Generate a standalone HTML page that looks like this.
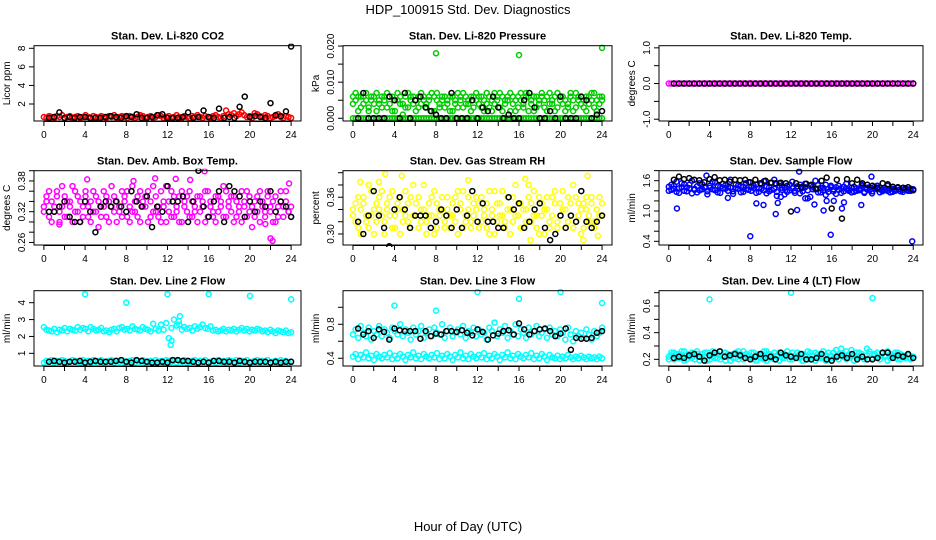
<!DOCTYPE html>
<html><head><meta charset="utf-8"><style>
body{margin:0;background:#fff;}
svg{display:block;font-family:"Liberation Sans",Arial,sans-serif;}
</style></head><body>
<svg id="chart" width="936" height="540" xmlns="http://www.w3.org/2000/svg">
<rect width="936" height="540" fill="#fff"/>
<text x="468" y="14" font-size="13" text-anchor="middle">HDP_100915  Std. Dev. Diagnostics</text>
<text x="468" y="531" font-size="13" text-anchor="middle">Hour of Day (UTC)</text>
</svg>
<script>
// ---------- DATA ----------
const co2Red=[0.6,0.5,0.7,0.6,0.5,0.7,0.6,0.8,0.5,0.6,0.7,0.5,0.6,0.7,0.5,0.6,0.8,0.6,0.5,0.7,0.6,0.5,0.7,0.6,0.5,0.7,0.6,0.8,0.5,0.6,0.7,0.6,0.5,0.7,0.6,0.5,0.6,0.8,0.7,0.5,0.6,0.7,0.5,0.6,0.8,0.7,0.5,0.6,0.7,0.5,0.6,0.8,0.6,0.5,0.7,0.6,0.5,0.7,0.6,0.8,0.6,0.5,0.7,0.6,0.5,0.7,0.8,0.6,0.5,0.7,1.3,0.9,0.8,1.0,0.7,0.9,1.1,0.8,0.6,0.7,0.5,1.0,0.9,0.7,0.6,0.8,0.7,0.5,0.6,0.7,0.9,0.6,0.5,0.7,0.6,0.5];
const co2Black=[0.5,0.6,1.1,0.5,0.6,0.5,0.6,0.6,0.5,0.5,0.5,0.6,0.7,0.6,0.5,0.7,0.6,0.9,0.5,0.5,0.6,0.8,0.9,0.5,0.5,0.5,0.6,1.1,0.5,0.6,1.3,0.6,0.5,1.5,0.5,0.6,0.5,1.7,2.8,0.6,0.7,0.6,0.5,2.1,0.8,0.7,1.2,8.2];

const presGreenA=[0.006,0.005,0.002,0.006,0.004,0.007,0.003,0.005,0.006,0.002,0.004,0.006,0.005,0.003,0.006,0.002,0.005,0.007,0.004,0.001,0.006,0.003,0.005,0.006,0.002,0.006,0.004,0.005,0.003,0.006,0.007,0.002,0.005,0.004,0.006,0.003,0.005,0.006,0.002,0.004,0.007,0.005,0.003,0.006,0.004,0.002,0.006,0.005,0.006,0.003,0.005,0.004,0.006,0.002,0.007,0.005,0.003,0.006,0.004,0.005,0.002,0.006,0.005,0.003,0.007,0.004,0.006,0.002,0.005,0.006,0.003,0.004,0.006,0.005,0.002,0.007,0.004,0.006,0.003,0.005,0.006,0.002,0.004,0.007,0.005,0.003,0.006,0.004,0.005,0.002,0.006,0.007,0.003,0.005,0.004,0.006];
const presGreenB=[0.004,0.007,0.006,0.003,0.006,0.005,0.002,0.006,0.004,0.007,0.005,0.003,0.006,0.007,0.004,0.006,0.002,0.005,0.006,0.004,0.003,0.007,0.006,0.004,0.005,0.003,0.007,0.006,0.004,0.005,0.002,0.006,0.007,0.003,0.005,0.006,0.004,0.002,0.006,0.005,0.003,0.006,0.007,0.004,0.005,0.006,0.003,0.007,0.004,0.006,0.002,0.007,0.003,0.005,0.004,0.006,0.007,0.002,0.005,0.006,0.007,0.004,0.002,0.006,0.005,0.003,0.007,0.006,0.004,0.002,0.006,0.005,0.007,0.003,0.006,0.004,0.005,0.002,0.007,0.006,0.004,0.005,0.003,0.006,0.002,0.007,0.005,0.006,0.003,0.006,0.004,0.005,0.007,0.002,0.006,0.005];
const presGreenZero=[0,0,0,0,0,0,0,0,0,0,0,0,0,0,0,0,0,0,0,0,0,0,0,0,0,0,0,0,0,0,0,0,0,0,0,0,0,0,0,0,0,0,0,0,0,0,0,0,0,0,0,0,0,0,0,0,0,0,0,0,0,0,0,0,0,0,0,0,0,0,0,0,0,0,0,0,0,0,0,0,0,0,0,0,0,0,0,0,0,0,0,0,0,0,0,0];
const presOutX=[8,16,24];
const presOutY=[0.018,0.0175,0.0195];
const presBlack=[0,0.007,0,0,0,0,0.006,0.005,0,0.007,0,0.005,0.006,0.003,0.002,0.001,0,0,0.007,0,0,0,0.005,0,0.003,0.002,0.006,0.003,0,0.001,0,0,0.005,0.007,0.003,0,0,0.002,0,0.006,0,0,0,0.006,0.005,0,0.001,0.002];

const tempMag=[0,0,0,0,0,0,0,0,0,0,0,0,0,0,0,0,0,0,0,0,0,0,0,0,0,0,0,0,0,0,0,0,0,0,0,0,0,0,0,0,0,0,0,0,0,0,0,0,0,0,0,0,0,0,0,0,0,0,0,0,0,0,0,0,0,0,0,0,0,0,0,0,0,0,0,0,0,0,0,0,0,0,0,0,0,0,0,0,0,0,0,0,0,0,0,0];
const tempBlack=[0,0,0,0,0,0,0,0,0,0,0,0,0,0,0,0,0,0,0,0,0,0,0,0,0,0,0,0,0,0,0,0,0,0,0,0,0,0,0,0,0,0,0,0,0,0,0,0];

const boxMagA=[0.33,0.35,0.31,0.34,0.32,0.36,0.30,0.33,0.35,0.31,0.34,0.37,0.32,0.35,0.30,0.33,0.36,0.31,0.34,0.32,0.35,0.29,0.33,0.36,0.31,0.34,0.33,0.35,0.30,0.32,0.36,0.34,0.31,0.33,0.37,0.32,0.35,0.30,0.34,0.33,0.36,0.31,0.32,0.35,0.33,0.30,0.34,0.37,0.32,0.36,0.31,0.33,0.35,0.30,0.34,0.32,0.36,0.31,0.33,0.35,0.32,0.34,0.30,0.36,0.33,0.31,0.35,0.32,0.34,0.37,0.31,0.33,0.35,0.30,0.34,0.32,0.36,0.33,0.31,0.35,0.29,0.34,0.32,0.36,0.33,0.31,0.35,0.32,0.34,0.30,0.33,0.36,0.31,0.34,0.32,0.33];
const boxMagB=[0.32,0.34,0.36,0.30,0.33,0.35,0.32,0.37,0.31,0.34,0.33,0.30,0.36,0.32,0.34,0.31,0.35,0.33,0.30,0.36,0.32,0.34,0.31,0.33,0.35,0.30,0.37,0.32,0.34,0.33,0.31,0.35,0.36,0.30,0.32,0.34,0.31,0.36,0.33,0.35,0.30,0.34,0.37,0.32,0.31,0.36,0.33,0.30,0.34,0.31,0.35,0.32,0.30,0.36,0.33,0.35,0.31,0.34,0.32,0.30,0.35,0.33,0.36,0.31,0.34,0.32,0.30,0.35,0.33,0.31,0.36,0.34,0.32,0.35,0.31,0.33,0.30,0.34,0.36,0.32,0.33,0.31,0.35,0.30,0.34,0.32,0.36,0.33,0.30,0.35,0.31,0.34,0.33,0.36,0.32,0.31];
const boxOutX=[1.5,4.2,8.7,10.8,12.8,14.2,15.6,21.5,22,22.2,23.8];
const boxOutY=[0.295,0.383,0.38,0.385,0.384,0.382,0.399,0.296,0.268,0.263,0.375];
const boxBlack=[0.32,0.32,0.33,0.34,0.31,0.30,0.30,0.34,0.32,0.28,0.33,0.34,0.33,0.34,0.33,0.32,0.36,0.34,0.33,0.35,0.29,0.33,0.32,0.37,0.34,0.34,0.35,0.30,0.34,0.40,0.33,0.31,0.34,0.36,0.30,0.37,0.36,0.35,0.31,0.34,0.32,0.34,0.33,0.36,0.32,0.34,0.33,0.31];

const rhYelA=[0.33,0.35,0.31,0.34,0.36,0.32,0.38,0.33,0.30,0.35,0.34,0.37,0.32,0.34,0.36,0.31,0.33,0.35,0.30,0.34,0.37,0.32,0.36,0.33,0.35,0.31,0.34,0.38,0.32,0.33,0.36,0.30,0.35,0.33,0.34,0.31,0.36,0.33,0.35,0.32,0.37,0.34,0.31,0.33,0.36,0.32,0.35,0.34,0.31,0.36,0.33,0.35,0.30,0.34,0.37,0.32,0.35,0.33,0.31,0.36,0.34,0.32,0.38,0.33,0.35,0.31,0.34,0.36,0.32,0.37,0.33,0.30,0.35,0.34,0.36,0.31,0.33,0.37,0.32,0.35,0.34,0.31,0.36,0.33,0.38,0.32,0.35,0.34,0.31,0.36,0.33,0.35,0.32,0.34,0.36,0.33];
const rhYelB=[0.34,0.32,0.36,0.30,0.35,0.33,0.31,0.37,0.34,0.32,0.36,0.33,0.30,0.35,0.33,0.37,0.31,0.34,0.36,0.32,0.33,0.35,0.31,0.38,0.33,0.36,0.32,0.34,0.30,0.35,0.33,0.37,0.31,0.34,0.36,0.32,0.34,0.31,0.33,0.36,0.30,0.35,0.37,0.32,0.34,0.31,0.33,0.36,0.35,0.32,0.34,0.31,0.37,0.33,0.30,0.35,0.33,0.37,0.32,0.34,0.30,0.36,0.33,0.35,0.31,0.34,0.32,0.38,0.35,0.33,0.31,0.36,0.33,0.30,0.34,0.32,0.36,0.35,0.31,0.33,0.37,0.34,0.32,0.35,0.31,0.36,0.33,0.30,0.35,0.34,0.32,0.36,0.31,0.34,0.33,0.35];
const rhOutX=[0.7,2.5,3.1,4.7,11.1,16.6,17.1,22.2,22.6,23.6];
const rhOutY=[0.385,0.385,0.398,0.395,0.388,0.39,0.29,0.29,0.395,0.297];
const rhBlack=[0.32,0.30,0.33,0.37,0.33,0.31,0.28,0.34,0.36,0.34,0.31,0.33,0.33,0.33,0.31,0.32,0.34,0.33,0.31,0.34,0.31,0.33,0.37,0.32,0.35,0.32,0.32,0.31,0.31,0.36,0.34,0.35,0.31,0.32,0.34,0.35,0.31,0.29,0.30,0.33,0.31,0.33,0.32,0.37,0.32,0.31,0.32,0.33];

const flowBlueA=[1.48,1.42,1.50,1.38,1.45,1.55,1.40,1.47,1.52,1.35,1.44,1.49,1.41,1.53,1.46,1.39,1.50,1.43,1.56,1.37,1.48,1.45,1.51,1.40,1.46,1.34,1.52,1.44,1.49,1.38,1.55,1.42,1.47,1.50,1.36,1.45,1.53,1.41,1.48,1.39,1.56,1.44,1.30,1.50,1.42,1.47,1.38,1.52,1.45,1.40,1.49,1.35,1.46,1.54,1.41,1.28,1.48,1.43,1.51,1.37,1.46,1.32,1.44,1.50,1.39,1.47,1.42,1.36,1.48,1.44,1.40,1.46,1.38,1.45,1.41,1.49,1.36,1.43,1.47,1.39,1.44,1.50,1.37,1.42,1.46,1.40,1.44,1.38,1.43,1.47,1.39,1.42,1.45,1.40,1.44,1.41];
const flowBlueB=[1.40,1.52,1.44,1.58,1.36,1.47,1.53,1.39,1.45,1.60,1.42,1.37,1.55,1.43,1.48,1.33,1.46,1.58,1.41,1.50,1.36,1.54,1.44,1.47,1.62,1.39,1.45,1.51,1.37,1.48,1.43,1.57,1.40,1.46,1.52,1.38,1.44,1.59,1.35,1.47,1.42,1.62,1.38,1.55,1.46,1.33,1.50,1.41,1.58,1.36,1.44,1.52,1.39,1.47,1.25,1.50,1.43,1.60,1.37,1.46,1.41,1.52,1.38,1.47,1.43,1.34,1.50,1.45,1.39,1.54,1.42,1.37,1.48,1.40,1.44,1.52,1.38,1.46,1.41,1.35,1.48,1.43,1.46,1.39,1.42,1.50,1.37,1.44,1.40,1.46,1.43,1.38,1.45,1.42,1.40,1.43];
const flowOutX=[0.8,3.7,5.8,8,8.6,9.3,10.5,10.7,11,12.6,12.8,13.4,14.3,15.2,15.5,15.9,16.2,17,17.2,18.9,19.9,23.9];
const flowOutY=[1.05,1.7,1.26,0.5,1.15,1.12,0.94,1.16,1.28,1.02,1.78,1.25,1.13,1.01,1.2,0.53,1.2,1.05,1.17,1.12,1.68,0.4];
const flowBlack=[1.62,1.68,1.63,1.65,1.62,1.61,1.57,1.63,1.67,1.61,1.62,1.58,1.62,1.61,1.62,1.57,1.62,1.55,1.60,1.56,1.55,1.56,1.55,0.99,1.55,1.47,1.54,1.52,1.44,1.60,1.66,1.05,1.62,0.85,1.63,1.55,1.62,1.55,1.52,1.50,1.46,1.55,1.53,1.48,1.47,1.46,1.47,1.42];

const l2CyanUp=[2.55,2.40,2.35,2.30,2.45,2.25,2.40,2.35,2.50,2.30,2.45,2.40,2.35,2.55,2.40,2.50,2.45,2.30,2.55,2.45,2.35,2.40,2.50,2.30,2.35,2.25,2.40,2.45,2.30,2.50,2.55,2.40,2.45,2.35,2.60,2.45,2.40,2.35,2.55,2.45,2.40,2.30,2.75,2.45,2.35,2.70,2.40,2.80,1.90,2.50,3.00,2.65,2.70,2.40,2.55,2.45,2.50,2.35,2.60,2.45,2.55,2.70,2.50,2.45,2.60,2.35,2.40,2.30,2.35,2.45,2.30,2.40,2.35,2.45,2.30,2.40,2.50,2.35,2.45,2.30,2.40,2.35,2.45,2.40,2.30,2.35,2.25,2.40,2.30,2.20,2.35,2.30,2.25,2.35,2.20,2.25];
const l2CyanLow=[0.45,0.55,0.50,0.60,0.45,0.55,0.50,0.60,0.55,0.45,0.50,0.60,0.55,0.50,0.45,0.60,0.50,0.55,0.45,0.60,0.50,0.55,0.60,0.45,0.50,0.55,0.60,0.45,0.55,0.50,0.60,0.45,0.50,0.55,0.60,0.45,0.55,0.50,0.60,0.45,0.50,0.55,0.45,0.60,0.50,0.55,0.45,0.60,0.55,0.50,0.60,0.45,0.55,0.50,0.60,0.45,0.50,0.55,0.60,0.45,0.55,0.50,0.60,0.45,0.50,0.55,0.45,0.60,0.50,0.55,0.45,0.60,0.55,0.50,0.60,0.45,0.55,0.50,0.60,0.45,0.50,0.55,0.60,0.45,0.55,0.50,0.60,0.45,0.50,0.55,0.45,0.60,0.50,0.55,0.45,0.50];
const l2OutX=[4,8,12,16,20,24,12.3,12.4,13.2,13.1];
const l2OutY=[4.5,4.0,4.5,4.5,4.4,4.2,1.5,1.75,3.2,2.9];
const l2Black=[0.5,0.55,0.5,0.45,0.5,0.5,0.55,0.45,0.5,0.55,0.5,0.5,0.5,0.55,0.6,0.5,0.45,0.6,0.55,0.5,0.45,0.45,0.5,0.45,0.6,0.6,0.55,0.55,0.5,0.45,0.5,0.45,0.55,0.55,0.5,0.5,0.45,0.55,0.5,0.45,0.5,0.5,0.5,0.45,0.5,0.45,0.5,0.5];

const l3CyanUp=[0.68,0.74,0.64,0.78,0.70,0.66,0.76,0.62,0.72,0.68,0.78,0.66,0.74,0.70,0.64,0.76,0.72,0.68,0.80,0.66,0.74,0.70,0.62,0.76,0.68,0.72,0.78,0.64,0.70,0.74,0.66,0.76,0.70,0.68,0.80,0.64,0.72,0.76,0.66,0.70,0.74,0.68,0.78,0.64,0.72,0.70,0.76,0.66,0.74,0.68,0.70,0.62,0.76,0.72,0.82,0.66,0.74,0.70,0.78,0.64,0.72,0.68,0.80,0.66,0.74,0.70,0.64,0.76,0.68,0.72,0.78,0.66,0.70,0.74,0.64,0.76,0.68,0.72,0.66,0.74,0.70,0.62,0.76,0.68,0.60,0.72,0.66,0.70,0.64,0.74,0.68,0.62,0.72,0.66,0.70,0.76];
const l3CyanLow=[0.42,0.45,0.39,0.44,0.41,0.47,0.40,0.43,0.38,0.45,0.42,0.40,0.44,0.41,0.46,0.39,0.43,0.40,0.45,0.42,0.38,0.44,0.41,0.47,0.40,0.43,0.39,0.45,0.42,0.40,0.44,0.41,0.46,0.39,0.43,0.40,0.45,0.42,0.38,0.44,0.41,0.47,0.40,0.43,0.39,0.45,0.42,0.40,0.44,0.41,0.46,0.39,0.43,0.40,0.45,0.42,0.38,0.44,0.41,0.47,0.40,0.43,0.39,0.45,0.42,0.40,0.44,0.41,0.46,0.39,0.43,0.40,0.45,0.42,0.38,0.44,0.41,0.40,0.43,0.39,0.42,0.40,0.44,0.41,0.39,0.42,0.40,0.43,0.41,0.39,0.42,0.40,0.41,0.39,0.42,0.40];
const l3OutX=[4,8,12,16,20,24];
const l3OutY=[1.02,0.96,1.18,1.1,1.18,1.05];
const l3Black=[0.75,0.68,0.72,0.64,0.74,0.71,0.62,0.75,0.73,0.72,0.72,0.72,0.63,0.72,0.66,0.69,0.68,0.72,0.72,0.71,0.73,0.70,0.67,0.74,0.71,0.62,0.67,0.69,0.72,0.73,0.68,0.81,0.74,0.68,0.72,0.74,0.75,0.72,0.66,0.69,0.75,0.50,0.64,0.63,0.63,0.64,0.70,0.72];

const l4CyanA=[0.22,0.25,0.20,0.24,0.21,0.26,0.19,0.23,0.22,0.25,0.20,0.24,0.22,0.21,0.25,0.19,0.23,0.26,0.21,0.24,0.20,0.23,0.25,0.22,0.19,0.24,0.21,0.26,0.22,0.20,0.24,0.23,0.21,0.25,0.19,0.22,0.24,0.20,0.26,0.22,0.21,0.25,0.23,0.19,0.24,0.21,0.22,0.20,0.25,0.23,0.21,0.24,0.19,0.22,0.26,0.20,0.23,0.25,0.21,0.24,0.22,0.19,0.25,0.23,0.21,0.27,0.20,0.24,0.22,0.26,0.21,0.23,0.19,0.25,0.22,0.24,0.20,0.23,0.26,0.21,0.24,0.22,0.20,0.25,0.23,0.19,0.24,0.22,0.21,0.25,0.20,0.23,0.22,0.24,0.21,0.22];
const l4CyanB=[0.20,0.23,0.25,0.21,0.24,0.22,0.26,0.20,0.24,0.21,0.23,0.26,0.19,0.24,0.22,0.25,0.20,0.22,0.24,0.21,0.26,0.22,0.19,0.24,0.23,0.21,0.25,0.20,0.24,0.26,0.21,0.22,0.25,0.20,0.23,0.24,0.21,0.26,0.19,0.24,0.23,0.20,0.22,0.25,0.21,0.24,0.26,0.23,0.20,0.22,0.25,0.21,0.24,0.23,0.20,0.25,0.22,0.19,0.24,0.21,0.26,0.23,0.20,0.22,0.25,0.21,0.24,0.28,0.22,0.20,0.24,0.27,0.23,0.21,0.25,0.22,0.20,0.28,0.24,0.21,0.23,0.25,0.20,0.24,0.22,0.26,0.21,0.23,0.25,0.20,0.24,0.22,0.21,0.23,0.20,0.22];
const l4OutX=[4,12,20];
const l4OutY=[0.65,0.7,0.66];
const l4Black=[0.21,0.22,0.21,0.23,0.24,0.22,0.19,0.23,0.25,0.26,0.22,0.23,0.24,0.23,0.21,0.20,0.22,0.24,0.21,0.22,0.20,0.25,0.23,0.22,0.21,0.24,0.20,0.20,0.21,0.24,0.20,0.19,0.22,0.23,0.21,0.24,0.20,0.22,0.20,0.20,0.21,0.25,0.25,0.21,0.23,0.22,0.24,0.21];

// ---------- RENDER ----------
const NS="http://www.w3.org/2000/svg";
const svg=document.getElementById('chart');
function mk(tag,attrs,parent){const e=document.createElementNS(NS,tag);for(const k in attrs)e.setAttribute(k,attrs[k]);(parent||svg).appendChild(e);return e;}
const cols=[[34,301],[343,612],[659,923]];
const rows=[[45.7,121],[170.7,245],[290.7,366]];
const XD=[-0.96,24.96];

function panel(p){
  const [x0,x1]=cols[p.c],[y0,y1]=rows[p.r];
  const g=mk('g',{});
  
  
  const sx=v=>x0+(v-XD[0])/(XD[1]-XD[0])*(x1-x0);
  const sy=v=>y1-(v-p.yd[0])/(p.yd[1]-p.yd[0])*(y1-y0);
  const cx=(x0+x1)/2;
  const t=mk('text',{x:cx,y:y0-6,'font-size':11,'font-weight':'bold','text-anchor':'middle'},g);
  t.textContent=p.title;
  
  
  for(let v=0;v<=24;v+=2){
    mk('line',{x1:sx(v),x2:sx(v),y1:y1,y2:y1+5,stroke:'#000','stroke-width':1},g);
    if(v%4===0){const tl=mk('text',{x:sx(v),y:y1+17,'font-size':10,'text-anchor':'middle'},g);tl.textContent=v;
      
      }
  }
  mk('line',{x1:sx(0),x2:sx(24),y1:y1+0.5,y2:y1+0.5,stroke:'#000'},g);
  p.yt.forEach(v=>mk('line',{x1:x0-5,x2:x0,y1:sy(v),y2:sy(v),stroke:'#000'},g));
  p.yl.forEach((lab,i)=>{const v=p.ylv[i];const yy=sy(v);
    const tl=mk('text',{x:x0-9,y:yy,'font-size':10,'text-anchor':'middle',transform:`rotate(-90 ${x0-9} ${yy})`},g);tl.textContent=lab;
    
    });
  const yt=(y0+y1)/2;
  const ya=mk('text',{x:x0-24,y:yt,'font-size':10,'text-anchor':'middle',transform:`rotate(-90 ${x0-24} ${yt})`},g);ya.textContent=p.ylab;
  
  
  const cid='clip'+p.r+p.c;
  const cp=mk('clipPath',{id:cid},g);mk('rect',{x:x0,y:y0-2,width:x1-x0,height:y1-y0+4},cp);
  const pts=mk('g',{'clip-path':`url(#${cid})`},g);
  p.series.forEach(s=>{
    const n=s.y.length;
    s.y.forEach((v,i)=>{
      const xv=s.x?s.x[i]:(s.black?(i+1)*24/n:i*24/(n-1));
      const c=mk('circle',{cx:sx(xv),cy:sy(v),r:2.5,fill:'none',stroke:s.col,'stroke-width':1.5},pts);
      
      
    });
  });
  mk('rect',{x:x0,y:y0,width:x1-x0,height:y1-y0,fill:'none',stroke:'#000','stroke-width':1},g);
}
const R='#ff0000',G='#00cc00',M='#ff00ff',Y='#ffff00',B='#0000ff',C='#00ffff',K='#000';
panel({name:'panel-co2',r:0,c:0,title:'Stan. Dev. Li-820 CO2',ylab:'Licor ppm',yd:[0.17,8.28],yt:[2,4,6,8],yl:['2','4','6','8'],ylv:[2,4,6,8],
 series:[{y:co2Red,col:R},{y:co2Black,col:K,black:1}]});
panel({name:'panel-pressure',r:0,c:1,title:'Stan. Dev. Li-820 Pressure',ylab:'kPa',yd:[-0.00075,0.0201],yt:[0,0.005,0.01,0.015,0.02],yl:['0.000','0.010','0.020'],ylv:[0,0.01,0.02],
 series:[{y:presGreenZero,col:G},{y:presGreenA,col:G},{y:presGreenB,col:G},{x:presOutX,y:presOutY,col:G},{y:presBlack,col:K,black:1}]});
panel({name:'panel-li820-temp',r:0,c:2,title:'Stan. Dev. Li-820 Temp.',ylab:'degrees C',yd:[-1.05,1.06],yt:[-1,-0.5,0,0.5,1],yl:['-1.0','0.0','1.0'],ylv:[-1,0,1],
 series:[{y:tempMag,col:M},{y:tempBlack,col:K,black:1}]});
panel({name:'panel-box-temp',r:1,c:0,title:'Stan. Dev. Amb. Box Temp.',ylab:'degrees C',yd:[0.255,0.40],yt:[0.26,0.28,0.30,0.32,0.34,0.36,0.38,0.40],yl:['0.26','0.32','0.38'],ylv:[0.26,0.32,0.38],
 series:[{y:boxMagA,col:M},{y:boxMagB,col:M},{x:boxOutX,y:boxOutY,col:M},{y:boxBlack,col:K,black:1}]});
panel({name:'panel-gas-rh',r:1,c:1,title:'Stan. Dev. Gas Stream RH',ylab:'percent',yd:[0.282,0.4033],yt:[0.30,0.32,0.34,0.36,0.38,0.40],yl:['0.30','0.36'],ylv:[0.30,0.36],
 series:[{y:rhYelA,col:Y},{y:rhYelB,col:Y},{x:rhOutX,y:rhOutY,col:Y},{y:rhBlack,col:K,black:1}]});
panel({name:'panel-sample-flow',r:1,c:2,title:'Stan. Dev. Sample Flow',ylab:'ml/min',yd:[0.327,1.798],yt:[0.4,0.6,0.8,1.0,1.2,1.4,1.6,1.8],yl:['0.4','1.0','1.6'],ylv:[0.4,1.0,1.6],
 series:[{y:flowBlueA,col:B},{y:flowBlueB,col:B},{x:flowOutX,y:flowOutY,col:B},{y:flowBlack,col:K,black:1}]});
panel({name:'panel-line2-flow',r:2,c:0,title:'Stan. Dev. Line 2 Flow',ylab:'ml/min',yd:[0.25,4.71],yt:[1,2,3,4],yl:['1','2','3','4'],ylv:[1,2,3,4],
 series:[{y:l2CyanUp,col:C},{y:l2CyanLow,col:C},{x:l2OutX,y:l2OutY,col:C},{y:l2Black,col:K,black:1}]});
panel({name:'panel-line3-flow',r:2,c:1,title:'Stan. Dev. Line 3 Flow',ylab:'ml/min',yd:[0.309,1.195],yt:[0.4,0.6,0.8,1.0],yl:['0.4','0.8'],ylv:[0.4,0.8],
 series:[{y:l3CyanUp,col:C},{y:l3CyanLow,col:C},{x:l3OutX,y:l3OutY,col:C},{y:l3Black,col:K,black:1}]});
panel({name:'panel-line4-flow',r:2,c:2,title:'Stan. Dev. Line 4 (LT) Flow',ylab:'ml/min',yd:[0.15,0.715],yt:[0.2,0.3,0.4,0.5,0.6,0.7],yl:['0.2','0.4','0.6'],ylv:[0.2,0.4,0.6],
 series:[{y:l4CyanA,col:C},{y:l4CyanB,col:C},{x:l4OutX,y:l4OutY,col:C},{y:l4Black,col:K,black:1}]});
</script>
</body></html>
